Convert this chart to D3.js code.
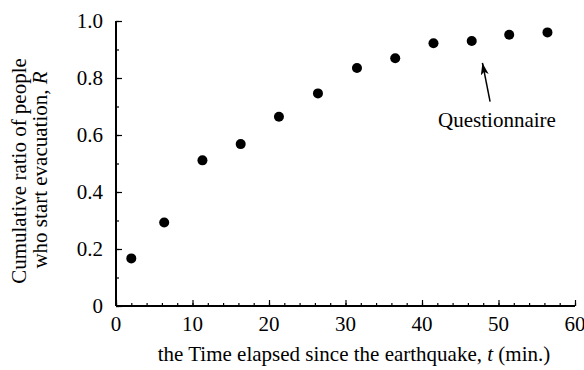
<!DOCTYPE html>
<html>
<head>
<meta charset="utf-8">
<script src="https://cdn.jsdelivr.net/npm/d3@7"></script>
<style>
  body { margin: 0; background: #fff; }
  text { font-family: "Liberation Serif", "Times New Roman", serif; fill: #000; }
</style>
</head>
<body>
<svg id="chart" width="584" height="370"></svg>
<script>
// elapsed time (min.) and cumulative ratio R
var times = [2.0, 6.3, 11.3, 16.3, 21.3, 26.4, 31.5, 36.5, 41.5, 46.5, 51.4, 56.4];
var ratios = [0.167, 0.293, 0.511, 0.568, 0.664, 0.746, 0.835, 0.869, 0.922, 0.930, 0.952, 0.960];
var xTicks = [0, 10, 20, 30, 40, 50, 60];
var yTicks = [0, 0.2, 0.4, 0.6, 0.8, 1.0];
var arrowFrom = [48.9, 0.717], arrowTo = [47.9, 0.853];
var note = "Questionnaire";

var svg = d3.select("#chart");
var x = d3.scaleLinear().domain([0, 60]).range([116, 575]);
var y = d3.scaleLinear().domain([0, 1]).range([306, 21]);

// minor ticks first (inward)
svg.append("g").attr("transform", "translate(0,306)")
  .call(d3.axisTop(x).tickValues(d3.range(0, 61, 2)).tickSize(3).tickFormat(""))
  .call(function(g){ g.select(".domain").remove(); });
svg.append("g").attr("transform", "translate(116,0)")
  .call(d3.axisRight(y).tickValues(d3.range(0, 1.01, 0.1)).tickSize(3).tickFormat(""))
  .call(function(g){ g.select(".domain").remove(); });

// major ticks
svg.append("g").attr("transform", "translate(0,306)")
  .call(d3.axisTop(x).tickValues(xTicks).tickSize(6).tickFormat(""))
  .call(function(g){ g.select(".domain").remove(); });
svg.append("g").attr("transform", "translate(116,0)")
  .call(d3.axisRight(y).tickValues(yTicks).tickSize(6).tickFormat(""))
  .call(function(g){ g.select(".domain").remove(); });

svg.selectAll(".tick line").attr("stroke", "#000").attr("stroke-width", 1.2);

// axis lines
svg.append("line").attr("x1", x(0)).attr("x2", x(60)).attr("y1", y(0)).attr("y2", y(0))
  .attr("stroke", "#000").attr("stroke-width", 2);
svg.append("line").attr("x1", x(0)).attr("x2", x(0)).attr("y1", y(0)).attr("y2", y(1))
  .attr("stroke", "#000").attr("stroke-width", 2);

// tick labels
svg.selectAll(".xl").data(xTicks).enter().append("text")
  .attr("x", function(d){ return x(d); }).attr("y", 331)
  .attr("text-anchor", "middle").attr("font-size", 21)
  .text(function(d){ return d; });
svg.selectAll(".yl").data(yTicks).enter().append("text")
  .attr("x", 103).attr("y", function(d){ return y(d) + 7; })
  .attr("text-anchor", "end").attr("font-size", 21)
  .text(function(d){ return d === 0 ? "0" : d.toFixed(1); });

// axis titles
var xt = svg.append("text").attr("x", 354).attr("y", 361)
  .attr("text-anchor", "middle").attr("font-size", 21);
xt.append("tspan").text("the Time elapsed since the earthquake, ");
xt.append("tspan").attr("font-style", "italic").text("t");
xt.append("tspan").text(" (min.)");

var yt = svg.append("text").attr("transform", "translate(26,171) rotate(-90)")
  .attr("text-anchor", "middle").attr("font-size", 21);
yt.append("tspan").text("Cumulative ratio of people");
var yt2 = svg.append("text").attr("transform", "translate(47,170) rotate(-90)")
  .attr("text-anchor", "middle").attr("font-size", 21);
yt2.append("tspan").text("who start evacuation, ");
yt2.append("tspan").attr("font-style", "italic").text("R");

// points
svg.selectAll("circle").data(times).enter().append("circle")
  .attr("cx", function(d){ return x(d); })
  .attr("cy", function(d, i){ return y(ratios[i]); })
  .attr("r", 5).attr("fill", "#000");

// annotation arrow
svg.append("defs").append("marker").attr("id", "ah")
  .attr("viewBox", "0 0 12 8").attr("refX", 12).attr("refY", 4)
  .attr("markerWidth", 12).attr("markerHeight", 8).attr("orient", "auto")
  .attr("markerUnits", "userSpaceOnUse")
  .append("path").attr("d", "M0,0 L12,4 L0,8 L3,4 Z").attr("fill", "#000");
svg.append("line")
  .attr("x1", x(arrowFrom[0])).attr("y1", y(arrowFrom[1]))
  .attr("x2", x(arrowTo[0])).attr("y2", y(arrowTo[1]))
  .attr("stroke", "#000").attr("stroke-width", 1.5)
  .attr("marker-end", "url(#ah)");
svg.append("text").attr("x", 497).attr("y", 127)
  .attr("text-anchor", "middle").attr("font-size", 21).text(note);
</script>
</body>
</html>
